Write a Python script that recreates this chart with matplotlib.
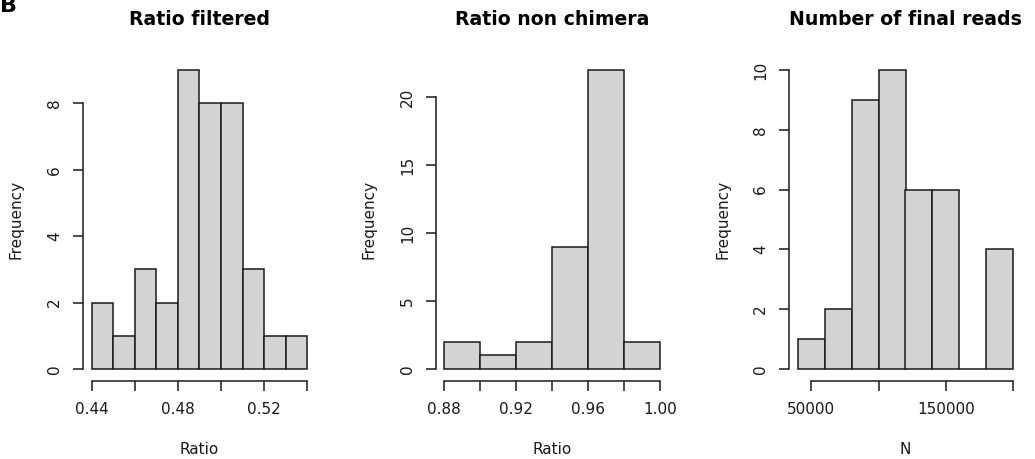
import matplotlib
matplotlib.use("Agg")
import matplotlib.pyplot as plt
import numpy as np

plt.rcParams["font.family"] = ["DejaVu Sans"]

# Histogram bin edges and counts for each panel
filtered_edges = [0.44, 0.45, 0.46, 0.47, 0.48, 0.49, 0.50, 0.51, 0.52, 0.53, 0.54]
filtered_counts = [2, 1, 3, 2, 9, 8, 8, 3, 1, 1]

chimera_edges = [0.88, 0.90, 0.92, 0.94, 0.96, 0.98, 1.00]
chimera_counts = [2, 1, 2, 9, 22, 2]

reads_edges = [40000, 60000, 80000, 100000, 120000, 140000, 160000, 180000, 200000]
reads_counts = [1, 2, 9, 10, 6, 6, 0, 4]

titles = ["Ratio filtered", "Ratio non chimera", "Number of final reads"]
xlabels = ["Ratio", "Ratio", "N"]

filtered_xticks = [0.44, 0.46, 0.48, 0.50, 0.52, 0.54]
filtered_xlabels = ["0.44", "", "0.48", "", "0.52", ""]
chimera_xticks = [0.88, 0.90, 0.92, 0.94, 0.96, 0.98, 1.00]
chimera_xlabels = ["0.88", "", "0.92", "", "0.96", "", "1.00"]
reads_xticks = [50000, 100000, 150000, 200000]
reads_xlabels = ["50000", "", "150000", ""]

filtered_yticks = [0, 2, 4, 6, 8]
chimera_yticks = [0, 5, 10, 15, 20]
reads_yticks = [0, 2, 4, 6, 8, 10]

W, H = 1035, 459
fig = plt.figure(figsize=(W / 100, H / 100), dpi=100)

FILL = "#D3D3D3"
INK = "#1a1a1a"

panels = [
    (83, 316, filtered_edges, filtered_counts, filtered_xticks, filtered_xlabels, filtered_yticks),
    (435.7, 669, chimera_edges, chimera_counts, chimera_xticks, chimera_xlabels, chimera_yticks),
    (789, 1022, reads_edges, reads_counts, reads_xticks, reads_xlabels, reads_yticks),
]

top_px, bot_px = 58, 381
ph = bot_px - top_px

for i, (x0, x1, edges, counts, xt, xl, yt) in enumerate(panels):
    ax = fig.add_axes([x0 / W, (H - bot_px) / H, (x1 - x0) / W, ph / H])
    edges = np.asarray(edges, dtype=float)
    ax.bar(edges[:-1], counts, width=np.diff(edges), align="edge",
           color=FILL, edgecolor=INK, linewidth=1.1)

    # R-style 4% padding around the data range
    xr = edges[-1] - edges[0]
    ax.set_xlim(edges[0] - 0.04 * xr, edges[-1] + 0.04 * xr)
    ym = max(counts)
    ax.set_ylim(-0.04 * ym, ym * 1.04)

    for s in ("top", "right"):
        ax.spines[s].set_visible(False)
    ax.spines["left"].set_bounds(yt[0], yt[-1])
    ax.spines["bottom"].set_bounds(xt[0], xt[-1])
    for s in ("left", "bottom"):
        ax.spines[s].set_color(INK)
        ax.spines[s].set_linewidth(1.1)

    ax.set_xticks(xt)
    ax.set_xticklabels(xl)
    ax.set_yticks(yt)
    ax.set_yticklabels([str(v) for v in yt], rotation=90, va="center")
    ax.tick_params(axis="both", direction="out", length=7, width=1.1,
                   color=INK, labelcolor=INK, labelsize=11)
    ax.tick_params(axis="x", pad=8)
    ax.tick_params(axis="y", pad=8)

    ax.text(0.5, 1 + 33 / ph, titles[i], transform=ax.transAxes,
            ha="center", va="baseline", fontsize=13.6, fontweight="bold",
            color="black")
    ax.text(-66.5 / (x1 - x0), 0.5, "Frequency", transform=ax.transAxes,
            rotation=90, ha="center", va="center", fontsize=11, color=INK)
    ax.text(0.5, -68 / ph, xlabels[i], transform=ax.transAxes,
            ha="center", va="center", fontsize=11, color=INK)

fig.text(0 / W, 1 - 11.5 / H, "B", fontsize=16, fontweight="bold",
         ha="left", va="baseline", color="black")

fig.savefig("out.png", dpi=100)
